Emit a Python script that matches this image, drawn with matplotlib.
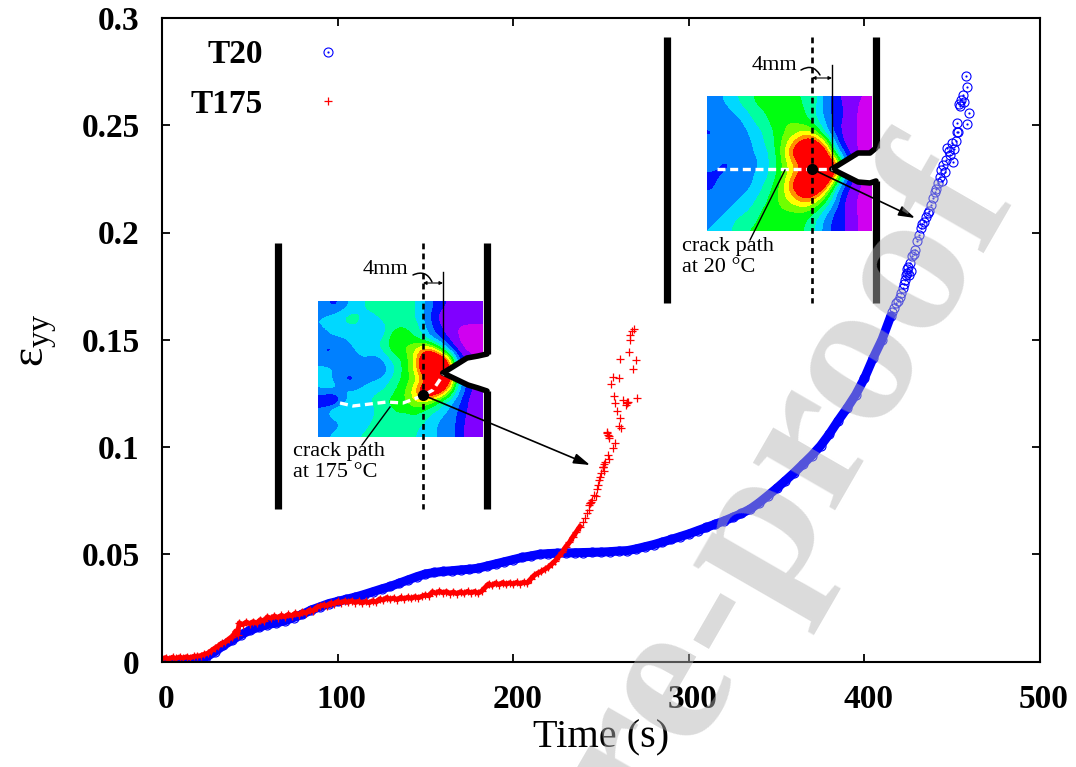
import numpy as np
import matplotlib
matplotlib.use('Agg')
import matplotlib.pyplot as plt
from matplotlib.colors import ListedColormap, BoundaryNorm
from matplotlib.path import Path
from matplotlib.transforms import ScaledTranslation

plt.rcParams['font.family'] = ['Liberation Serif', 'DejaVu Serif']
plt.rcParams['mathtext.fontset'] = 'custom'
plt.rcParams['mathtext.rm'] = 'Liberation Serif'

# T20 - dense part, read every 5 s
t20_time = [0, 5, 10, 15, 20, 25, 30, 35, 40, 45, 50, 55, 60, 65, 70, 75, 80, 85, 90, 95,
            100, 105, 110, 115, 120, 125, 130, 135, 140, 145, 150, 155, 160, 165, 170, 175, 180, 185, 190, 195,
            200, 205, 210, 215, 220, 225, 230, 235, 240, 245, 250, 255, 260, 265, 270, 275, 280, 285, 290, 295,
            300, 305, 310, 315, 320, 325, 330, 335, 340, 345, 350, 355, 360, 365, 370, 375, 380, 385, 390, 395,
            400, 405, 410, 415]
t20_strain = [.0002, .0003, .0004, .0005, .0008, .002, .0045, .0075, .0100, .0125,
              .0145, .016, .0172, .018, .019, .0205, .022, .024, .0255, .027,
              .028, .029, .0300, .0312, .0325, .0338, .035, .0365, .038, .0395,
              .0408, .0415, .042, .0423, .0427, .043, .0435, .0445, .0455, .0465,
              .0475, .0485, .0492, .05, .0503, .0505, .0506, .0507, .0508, .0509,
              .051, .0512, .0515, .0517, .0525, .0535, .0545, .0557, .0569, .0582,
              .0595, .061, .0625, .0640, .0655, .0672, .0690, .0711, .0740, .0773,
              .0807, .0843, .0880, .0920, .0960, .1005, .1060, .1122, .118, .1243,
              .132, .1415, .150, .161]

# T20 - sparse end of the curve, single markers
t20_end_time = [416, 417, 418, 419, 420, 421, 422, 422.5, 423, 423.5, 424, 424.5, 425, 425.5, 426, 426.5,
                427, 428, 429, 430, 431, 432, 433, 434, 435, 436, 437, 438, 439, 440,
                441, 442, 443, 443.5, 444, 445, 446, 446.5, 447, 448, 449, 450, 450.5, 451,
                452, 452.6, 452.6, 453.5, 454, 454.5, 455, 456, 456.5, 458.2, 459.8, 458.5, 458]
t20_end_strain = [.163, .165, .167, .168, .170, .172, .174, .176, .178, .180, .181, .183, .184, .180, .186, .182,
                  .189, .190, .192, .196, .199, .202, .204, .205, .207, .209, .210, .213, .216, .219,
                  .2205, .223, .226, .229, .224, .2314, .228, .234, .2396, .238, .236, .2415, .233, .239,
                  .2425, .2467, .251, .247, .260, .259, .262, .264, .261, .2506, .2556, .268, .273]

# T175
t175_time = [0, 2, 4, 6, 8, 10, 12, 14, 16, 18, 20, 22, 24, 26, 28, 30, 32, 34, 36, 38,
             40, 41, 42, 43, 44, 46, 48, 50, 52, 54, 56, 58, 60, 62, 64, 66, 68, 70, 72, 74,
             76, 78, 80, 82, 84, 86, 88, 90, 92, 94, 96, 98, 100, 102, 104, 106, 108, 110, 112, 114,
             116, 118, 120, 122, 124, 126, 128, 130, 132, 134, 136, 138, 140, 142, 144, 146, 148, 150, 152, 154,
             156, 158, 160, 162, 164, 166, 168, 170, 172, 174, 176, 178, 180, 182, 184, 186, 188, 190, 192, 194,
             196, 198, 200, 202, 204, 206, 208, 210, 212, 214, 216, 218, 220, 222, 224, 226, 228, 230, 232, 234,
             236, 238, 240, 241, 242, 243, 244, 245, 246, 247, 248, 248.5, 249, 249.5, 250, 251, 251.5, 252, 254, 254.5,
             256.7, 258, 254, 253.2, 254.8, 261.4, 260.8, 260, 259, 258, 257.4, 262.5, 265, 264.5, 270.3, 255.7, 256.7, 260.3, 268, 270,
             260.8, 266, 266.5, 266.5, 267.5, 268.8,
             243.7, 244.2, 243.1, 251.3, 251, 251.8, 254.3, 253.7, 265.5, 264.7]
t175_strain = [.0012, .0018, .0011, .0020, .0014, .0021, .0016, .0022, .0017, .0024, .0025, .0027, .0034, .0038, .0050, .0062, .0072, .0085, .0090, .0105,
               .0115, .0128, .0142, .0125, .0180, .0172, .0184, .0176, .0186, .0178, .0195, .0188, .0208, .0201, .0212, .0205, .0215, .0208, .0220, .0212,
               .0226, .0218, .0232, .0225, .0240, .0235, .0252, .0258, .0264, .0260, .0272, .0268, .0280, .0274, .0282, .0276, .0283, .0275, .0281, .0273,
               .0280, .0274, .0283, .0277, .0292, .0286, .0298, .0290, .0296, .0288, .0299, .0292, .0300, .0294, .0302, .0297, .0304, .0310, .0306, .0325,
               .0318, .0328, .0320, .0326, .0317, .0324, .0316, .0325, .0318, .0327, .0320, .0326, .0319, .0328, .0345, .0362, .0355, .0366, .0358, .0368,
               .0360, .0367, .0361, .0369, .0362, .0370, .0366, .0385, .0402, .0412, .0420, .0430, .0440, .0455, .0470, .0490, .0510, .0536, .0555, .0582,
               .0605, .0629, .0650, .0670, .0690, .0705, .0740, .0755, .0777, .0770, .0805, .0824, .0845, .0862, .0880, .0909, .0890, .0930, .0964, .0945,
               .0995, .1020, .1057, .1072, .1040, .1090, .1136, .1100, .1166, .1206, .1239, .1220, .1208, .1195, .1230, .1295, .1326, .1321, .1365, .1407,
               .1412, .1441, .1500, .1523, .1539, .1550,
               .0740, .0745, .0730, .0909, .0905, .0920, .1050, .1065, .1212, .1205]
t175_band_end = 122  # up to here the crosses merge into a solid band

x_ticks = [0, 100, 200, 300, 400, 500]
y_ticks = [0, 0.05, 0.1, 0.15, 0.2, 0.25, 0.3]
y_tick_labels = ['0', '0.05', '0.1', '0.15', '0.2', '0.25', '0.3']

# strain field of the two insets, colour class per grid node
field_175 = [
    [3, 2, 3, 4, 4.5, 5, 5.5, 5.5, 5, 4.5, 3.5, 2, 1.5, 1, 1, 1.5],
    [3.5, 4, 4.8, 5, 4.2, 4.2, 5.2, 5.5, 5, 4.5, 3, 1.5, .5, 1, 1.5, 1.5],
    [3.5, 4, 4.2, 4.5, 4.2, 3.2, 4.2, 5.2, 5.5, 5, 3.5, 2, 1, .5, 0, 0],
    [3, 3.5, 3.5, 3.8, 4.5, 4.2, 4.5, 7, 6, 5.5, 4, 2.5, 1.5, .5, 0, 0],
    [2.5, 2, 3, 3.5, 4.2, 4.2, 5, 6.5, 6.5, 7.5, 9, 7, 3, 1, 0, 0],
    [2.5, 3, 3.5, 3, 3.5, 3, 4, 5, 6, 8, 13, 13, 10, 3, 1, .5],
    [4, 3.5, 3, 3, 3.5, 1.5, 3, 4.5, 6, 8, 13, 14, 13, 4, 1.5, 1],
    [4, 3.5, 2, 2, 3, 3.5, 4, 5, 6, 7, 9, 13, 13, 5, 2, 1],
    [3.5, 4, 4, 3.5, 4, 4.2, 4.5, 5.5, 6.5, 8.5, 13, 13, 9, 4, 2, 1],
    [1.5, 0, 3, 4, 4.2, 4.8, 5.5, 6, 6.5, 8, 8, 6, 4.5, 3, 1.5, .5],
    [3, 5, 5.5, 4, 3.5, 4.5, 5, 5.5, 5.5, 6, 5, 4.5, 3.5, 2.5, 1.5, .5],
    [2.5, 3, 3.5, 3.5, 4, 4.8, 5, 5.5, 5, 5, 4.5, 3.5, 3, 2.5, 1, .5],
    [3.5, 3.5, 4, 4.5, 4.5, 5, 4.5, 5.5, 5, 4.5, 4, 3.5, 3, 2.5, 1, .5],
]
field_20 = [
    [3, 3.5, 4, 5, 5.5, 6, 6, 6, 5.5, 5.5, 5, 3, 2, 1, .5, .5],
    [3, 3, 3.5, 4, 5, 5.5, 6, 6, 6, 5.5, 4.5, 3, 2, 1.5, .5, 0],
    [2.8, 3, 3, 3.5, 4.5, 5, 6, 6.5, 6.5, 6, 5, 3.5, 2, 1, .5, 0],
    [2.3, 2.8, 3, 3, 4, 4.5, 5.5, 6.5, 7, 8, 7, 4, 2, 1, .5, 0],
    [2.8, 2.8, 3, 3, 3.5, 4.5, 5.5, 7, 9, 11, 11, 8, 3, 1, .5, 0],
    [2.4, 2.8, 2.8, 3, 3.5, 4, 5, 7.5, 10.5, 13, 13, 11, 5, 2, .5, 0],
    [2.8, 2.4, 2.4, 2.8, 3, 4, 5, 7, 8.5, 11, 13, 13, 10, 3, 1, 0],
    [2.4, 2.4, 2.8, 3, 3.5, 4, 5, 7, 8.5, 11, 13, 13, 10, 3, 1, 0],
    [2.3, 2.8, 3, 3, 3.5, 4.5, 5.5, 7.5, 10.5, 13, 13, 11, 5, 2, 1, 0],
    [2.6, 3, 3, 3.5, 4, 5, 6, 7.5, 9, 11, 10, 7, 3.5, 1.5, .5, 0],
    [3, 3, 3.5, 4, 4.5, 5.5, 6, 7, 7.5, 8, 7, 5, 3, 1, .5, 0],
    [3, 3.5, 4, 4.5, 5, 6, 6, 6, 6, 6, 5, 3.5, 2, 1.5, .5, 0],
    [3.5, 4, 4.5, 5.5, 5.5, 6, 6, 6, 6, 5.5, 4.5, 3, 2, 1.5, .5, 0],
]
field_colors = ['#d000f0', '#8000ff', '#0010ff', '#0080ff', '#00d8ff', '#00ffa0',
                '#00ff10', '#70ff00', '#ffff00', '#ff9000', '#ff0000']

W, H = 1076, 767
fig = plt.figure(figsize=(W / 100, H / 100), dpi=100)
ax = fig.add_axes([162 / W, 1 - 661.5 / H, 878 / W, 643.5 / H])

# circle with a dot in the middle, gnuplot style
dot_circle = Path.make_compound_path(
    Path.unit_circle(),
    Path(Path.unit_circle().vertices * 0.12, Path.unit_circle().codes))

ax.plot(t20_time, t20_strain, '-', color='#0000ff', lw=6.5, solid_capstyle='round',
        marker=dot_circle, ms=6.5, mfc='none', mec='#0000ff', mew=0.8)
l20, = ax.plot(t20_end_time, t20_end_strain, ls='none', marker=dot_circle, ms=6.5,
               mfc='none', mec='#0000ff', mew=0.8, label='T20')
ax.plot(t175_time[:t175_band_end], t175_strain[:t175_band_end], '-', color='#ff0000', lw=3.6)
l175, = ax.plot(t175_time, t175_strain, ls='none', marker='+', ms=6, mec='#ff0000',
                mew=0.9, label='T175')

ax.set_xlim(0, 500)
ax.set_ylim(0, 0.3)
ax.set_xticks(x_ticks)
ax.set_yticks(y_ticks)
ax.set_yticklabels(y_tick_labels)
ax.tick_params(direction='in', length=6, width=1.3, top=True, right=True, labelsize=24, pad=16)
shift = ScaledTranslation(4 / 100, 0, fig.dpi_scale_trans)
for lab in ax.get_xticklabels():
    lab.set_fontweight('bold')
    lab.set_transform(lab.get_transform() + shift)
for lab in ax.get_yticklabels():
    lab.set_fontweight('bold')
for s in ax.spines.values():
    s.set_linewidth(1.5)

fig.text(601 / W, 1 - 738 / H, 'Time (s)', fontsize=29, ha='center', va='center')
fig.text(38 / W, 1 - 340 / H, r'$\mathrm{ε_{yy}}$', fontsize=33, rotation=90,
         ha='center', va='center')

ax.legend(handles=[l20, l175], loc='upper left', bbox_to_anchor=(0.0, 1.011), frameon=False,
          markerfirst=False, prop={'weight': 'bold', 'size': 24}, handletextpad=1.6,
          labelspacing=0.56, borderaxespad=0.45, handlelength=0.72, borderpad=0.4)

# overlay in pixel coordinates for the two specimen sketches
ov = fig.add_axes([0, 0, 1, 1], zorder=5)
ov.patch.set_alpha(0)


def sketch(field, x0, x1, y0, y1, bar_l, bar_r, bar_top, bar_bot, notch_up, notch_lo, tip,
           crack, dot, dim_y, line_top, label_4mm, curve, lab_xy, lab_txt, leader, arrow_end):
    z = np.array(field, dtype=float)
    levels = np.arange(-0.5, 10.5 + 1, 1)
    cmap = ListedColormap(field_colors)
    cmap.set_over(field_colors[-1])
    cmap.set_under(field_colors[0])
    ov.imshow(z, extent=(x0, x1, y1, y0), aspect='auto', interpolation='bicubic',
              interpolation_stage='data', cmap=cmap, norm=BoundaryNorm(levels, cmap.N))

    # notch is white, outlined in thick black
    upper = [tip] + notch_up
    lower = [tip] + notch_lo
    ov.fill([p[0] for p in upper] + [p[0] for p in lower[::-1]],
            [p[1] for p in upper] + [p[1] for p in lower[::-1]], color='white', lw=0)
    for pts in (upper, lower):
        ov.plot([p[0] for p in pts], [p[1] for p in pts], color='k', lw=4, solid_capstyle='round',
                solid_joinstyle='round')

    ov.plot([bar_l, bar_l], [bar_top, bar_bot], color='k', lw=5.2, solid_capstyle='butt')
    ov.plot([bar_r, bar_r], [bar_top, notch_up[-1][1]], color='k', lw=5.2, solid_capstyle='butt')
    ov.plot([bar_r, bar_r], [notch_lo[-1][1], bar_bot], color='k', lw=5.2, solid_capstyle='butt')
    ov.plot([dot[0], dot[0]], [bar_top, bar_bot], color='k', lw=1.9, ls=(0, (2.2, 1.6)))

    ov.plot([p[0] for p in crack], [p[1] for p in crack], color='white', lw=2.4, ls=(0, (2.4, 1.4)))
    ov.plot([tip[0], tip[0]], [line_top, tip[1]], color='k', lw=1.0)
    ov.plot(dot[0], dot[1], 'o', color='k', ms=7)

    ov.annotate('', xy=(dot[0], dim_y), xytext=(tip[0], dim_y),
                arrowprops=dict(arrowstyle='<|-|>', color='k', lw=0.8, mutation_scale=5, shrinkA=0, shrinkB=0))
    ov.text(label_4mm[0], label_4mm[1], '4mm', fontsize=16, ha='right', va='center')
    ov.annotate('', xy=curve[1], xytext=curve[0],
                arrowprops=dict(arrowstyle='-', color='k', lw=1.1, shrinkA=0, shrinkB=0,
                                connectionstyle='arc3,rad=-0.5'))
    ov.text(lab_xy[0], lab_xy[1], lab_txt, fontsize=16, ha='left', va='center', linespacing=1.15)
    ov.plot([leader[0][0], leader[1][0]], [leader[0][1], leader[1][1]], color='k', lw=1.0)
    ov.annotate('', xy=arrow_end, xytext=dot,
                arrowprops=dict(arrowstyle='-|>,head_length=0.7,head_width=0.22', color='k', lw=1.2,
                                mutation_scale=14, shrinkA=0, shrinkB=0))


sketch(field_175, 318, 483, 301, 437, 278, 487, 243, 509,
       [(467, 358), (478, 356), (487, 354)], [(468, 385), (478, 388), (487, 391)], (443, 373),
       [(340, 403), (353, 406), (387, 402), (403, 403), (422, 396), (433, 390), (443, 375)],
       (423, 395), 283, 272, (408, 270), ((413, 275), (432, 282)),
       (293, 462), 'crack path\nat 175 °C', ((390, 407), (362, 445)), (590, 465))

sketch(field_20, 707, 872, 96, 231, 667, 876, 37, 303,
       [(858, 153), (870, 153), (876, 148)], [(858, 182), (870, 183), (876, 181)], (832, 169),
       [(717, 169), (832, 169)],
       (812, 169), 78, 65, (797, 65), ((801, 70), (820, 75)),
       (682, 257), 'crack path\nat 20 °C', ((785, 170), (750, 240)), (915, 218))

ov.set_xlim(0, W)
ov.set_ylim(H, 0)
ov.axis('off')

# journal watermark, on top of everything and half transparent
fig.text(1016 / W, 1 - 197 / H, 'Journal Pre-proof', fontsize=150, fontweight='bold',
         color='0.7', alpha=0.47, rotation=60, rotation_mode='anchor', ha='right', va='baseline',
         zorder=20)

fig.savefig('out.png', dpi=100)
